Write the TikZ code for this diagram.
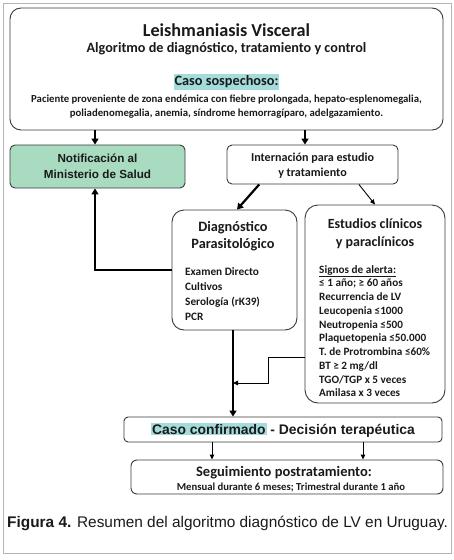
\documentclass[tikz,border=0pt]{standalone}
\usepackage{fontspec}
\setmainfont{Carlito}
\newfontfamily\arialf{Liberation Sans}
\usetikzlibrary{arrows.meta,calc}
\definecolor{boxline}{HTML}{3A3A3A}
\definecolor{greenfill}{HTML}{A8DBC0}
\definecolor{hl}{HTML}{A3DCDA}
\definecolor{frame}{HTML}{B4B4B4}
\definecolor{ink}{HTML}{1A1A1A}
\tikzset{
  x=1pt, y=-1pt,
  box/.style={draw=boxline, line width=0.9pt, inner sep=0pt},
  lbl/.style={inner sep=0pt, text=ink, font=\bfseries, align=center},
  lst/.style={inner sep=0pt, text=ink, font=\bfseries, anchor=west, align=left},
  thickarrow/.style={line width=2.2pt, -{Triangle[width=7pt,length=6pt]}},
  thinarrow/.style={line width=0.9pt, -{Triangle[width=4.5pt,length=5pt]}},
  thickline/.style={line width=2.2pt},
}
\begin{document}
\begin{tikzpicture}
\useasboundingbox (0,0) rectangle (454,560);
\fill[white] (0,0) rectangle (454,560);
\draw[frame, line width=1pt] (3,3) rectangle (451,553);

% boxes
\node[box, rounded corners=11pt, minimum width=433pt, minimum height=122pt] (top) at (226.5,69) {};
\node[box, fill=greenfill, rounded corners=5pt, minimum width=175pt, minimum height=43pt] (notif) at (97.5,166.5) {};
\node[box, rounded corners=5pt, minimum width=171pt, minimum height=39pt] (int) at (312.5,164.5) {};
\node[box, rounded corners=12pt, minimum width=125pt, minimum height=120pt] (diag) at (234.5,270) {};
\node[box, rounded corners=13pt, minimum width=140pt, minimum height=198pt] (est) at (375,304) {};
\node[box, rounded corners=4pt, minimum width=318pt, minimum height=25pt] (caso) at (283,429.5) {};
\node[box, rounded corners=6pt, minimum width=312pt, minimum height=34pt] (seg) at (287,477) {};

% top box texts
\node[lbl, font=\bfseries\fontsize{18.2}{20}\selectfont] (t1) at (226.5,30) {Leishmaniasis Visceral};
\node[lbl, font=\bfseries\fontsize{14.2}{16}\selectfont] (t2) at (226.5,48.5) {Algoritmo de diagnóstico, tratamiento y control};
\node[lbl, fill=hl, inner xsep=1pt, inner ysep=2pt, font=\bfseries\fontsize{14.3}{16}\selectfont] (t3) at (226.5,82) {Caso sospechoso:};
\node[lbl, font=\bfseries\fontsize{10.75}{14}\selectfont] (t4) at (226.5,107) {Paciente proveniente de zona endémica con fiebre prolongada, hepato-esplenomegalia,\\poliadenomegalia, anemia, síndrome hemorragíparo, adelgazamiento.};

% notif / internacion
\node[lbl, font=\arialf\bfseries\fontsize{11.7}{16}\selectfont] (nt) at (97.5,166.5) {Notificación al\\Ministerio de Salud};
\node[lbl, font=\bfseries\fontsize{12.1}{15}\selectfont] (it) at (312.5,165.5) {Internación para estudio\\y tratamiento};

% diagnostico
\node[lbl, font=\bfseries\fontsize{14.3}{17}\selectfont] (dt) at (233,236.5) {Diagnóstico\\Parasitológico};
\node[lst, font=\bfseries\fontsize{11.3}{15}\selectfont] (dl) at (185,294.5) {Examen Directo\\Cultivos\\Serología (rK39)\\PCR};

% estudios
\node[lbl, font=\bfseries\fontsize{14}{18}\selectfont] (et) at (375,234) {Estudios clínicos\\y paraclínicos};
\node[lst, font=\bfseries\fontsize{11.2}{13.75}\selectfont, anchor=north west] (el) at (319,265) {\underline{Signos de alerta:}\\
≤ 1 año; ≥ 60 años\\
Recurrencia de LV\\
Leucopenia ≤1000\\
Neutropenia ≤500\\
Plaquetopenia ≤50.000\\
T. de Protrombina ≤60\%\\
BT ≥ 2 mg/dl\\
TGO/TGP x 5 veces\\
Amilasa x 3 veces};

% caso confirmado
\node[lbl, font=\arialf\bfseries\fontsize{13.9}{15}\selectfont] (ct) at (283,430) {\setlength{\fboxsep}{1pt}\colorbox{hl}{Caso confirmado} - Decisión terapéutica};

% seguimiento
\node[lbl, font=\bfseries\fontsize{14.5}{16}\selectfont] (st) at (284,473) {Seguimiento postratamiento:};
\node[lbl, font=\bfseries\fontsize{10.7}{12}\selectfont] (st2) at (291,487.5) {Mensual durante 6 meses; Trimestral durante 1 año};

% caption
\node[inner sep=0pt, anchor=west, text=ink, font=\arialf\fontsize{15.4}{17}\selectfont] (cap) at (7,523) {\textbf{Figura 4.} Resumen del algoritmo diagnóstico de LV en Uruguay.};

% connectors
\coordinate (a1) at (95,130);
\coordinate (a2) at (305,130);
\draw[thickarrow] (top.south -| a1) -- (notif.north -| a1);
\draw[thickarrow] (top.south -| a2) -- (int.north -| a2);

\draw[thickarrow] ($(int.south west)!0.19!(int.south east)$) -- ($(diag.north)+(2.5,0)$);
\draw[thinarrow] ($(int.south west)!0.77!(int.south east)$) -- (est.north);

\draw[thickarrow] (diag.west) -| (notif.south -| a1);
\coordinate (dj) at ($(diag.south)+(-1.5,0)$);
\draw[thickarrow] (dj) -- (dj |- caso.north);

\coordinate (e1) at ($(est.west)+(0,53)$);
\coordinate (e2) at (268,383);
\draw[thinarrow] (e1) -| (e2) -- (e2 -| dj);

\coordinate (b1) at (212,450);
\coordinate (b2) at (363,450);
\draw[thinarrow] (caso.south -| b1) -- (seg.north -| b1);
\draw[thinarrow] (caso.south -| b2) -- (seg.north -| b2);
\end{tikzpicture}
\end{document}
